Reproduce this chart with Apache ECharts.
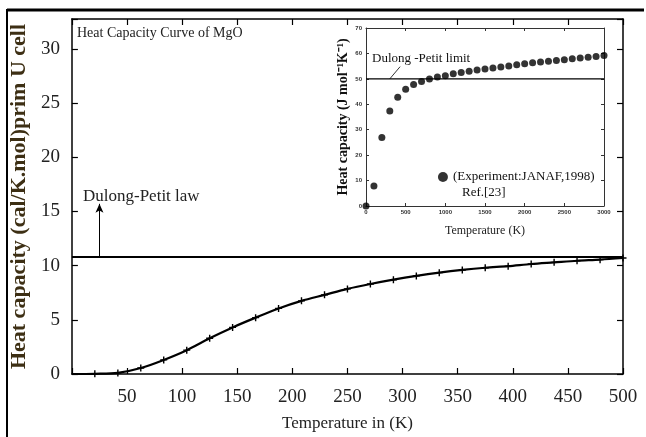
<!DOCTYPE html>
<html lang="en">
<head>
    <meta charset="UTF-8">
    <title>Heat Capacity Curve of MgO</title>
    <style>
        html, body { margin: 0; padding: 0; background: #fff; }
    </style>
</head>
<body>
<div class="main" style="width: 646px;height: 437px;"></div>
</body>
<script src="https://cdn.jsdelivr.net/npm/echarts@6/dist/echarts.min.js"></script>
<script>
    // main curve (cal/K.mol)
    var mainTemp = [0, 20.8, 41.7, 62.5, 83.3, 104.2, 125, 145.8, 166.7, 187.5, 208.3, 229.2, 250,
        270.8, 291.7, 312.5, 333.3, 354.2, 375, 395.8, 416.7, 437.5, 458.3, 479.2, 500];
    var mainCap = [0, 0.02, 0.1, 0.55, 1.3, 2.2, 3.3, 4.3, 5.2, 6.05, 6.75, 7.3, 7.85,
        8.3, 8.7, 9.05, 9.35, 9.6, 9.8, 9.95, 10.15, 10.3, 10.45, 10.55, 10.7];
    var dulongMain = 10.8;
    var arrowMain = [25, 15.7];

    // inset (J mol-1 K-1), JANAF
    var insetTemp = [0, 100, 200, 300, 400, 500, 600, 700, 800, 900, 1000, 1100, 1200, 1300, 1400, 1500,
        1600, 1700, 1800, 1900, 2000, 2100, 2200, 2300, 2400, 2500, 2600, 2700, 2800, 2900, 3000];
    var insetCap = [0, 7.9, 26.9, 37.4, 42.8, 45.9, 47.8, 49.0, 49.9, 50.7, 51.2, 52.0, 52.5, 53.0, 53.5, 53.9,
        54.3, 54.7, 55.1, 55.5, 55.9, 56.3, 56.6, 56.9, 57.2, 57.5, 57.9, 58.2, 58.5, 58.8, 59.2];
    var dulongInset = 50;
    var legendDot = [970, 11.4];
    var pointer = [[300, 50], [430, 54.8]];

    var mainXTicks = [0, 500, 50];
    var mainYTicks = [0, 32.75, 5];
    var insetXTicks = [0, 3000, 500];
    var insetYTicks = [0, 70, 10];

    var serif = "'Liberation Serif', 'Times New Roman', serif";
    var main = document.querySelector(".main");
    var mainEcharts = echarts.init(main);

    function pairs(xs, ys) {
        return xs.map(function (x, i) { return [x, ys[i]]; });
    }

    var mainData = pairs(mainTemp, mainCap).map(function (p, i) {
        return i === 0 ? {value: p, symbol: 'none'} : p;
    });

    var plus = 'path://M4,0H6V4H10V6H6V10H4V6H0V4H4Z';

    function tickAxis(pos, rng, gi, labelled, extra) {
        var ax = {
            type: 'value', gridIndex: gi, position: pos,
            min: rng[0], max: rng[1], interval: rng[2],
            splitLine: {show: false},
            axisLine: {show: true, onZero: false, lineStyle: {color: '#000', width: 1.5}},
            axisTick: {show: true, inside: true, length: 6, lineStyle: {color: '#000', width: 1.2}},
            axisLabel: {show: labelled}
        };
        for (var k in extra) ax[k] = extra[k];
        return ax;
    }

    var smallLine = {show: true, onZero: false, lineStyle: {color: '#333', width: 1}};
    var smallTick = {show: true, inside: true, length: 3, lineStyle: {color: '#333', width: 1}};
    var smallLabel = {
        show: true, color: '#333', fontFamily: 'Liberation Sans', fontSize: 6, fontWeight: 'bold',
        formatter: function (v) { return String(v); }
    };

    var option = {
        animation: false,
        grid: [
            {left: 69, top: 19, width: 554, height: 357, show: false},
            {left: 366, top: 28, width: 238, height: 178, show: false}
        ],
        xAxis: [
            tickAxis('bottom', mainXTicks, 0, true, {
                axisLabel: {
                    show: true, margin: 14, color: '#222', fontFamily: serif, fontSize: 19,
                    formatter: function (v) { return v === 0 ? '' : v; }
                },
                name: 'Temperature in (K)', nameLocation: 'middle', nameGap: 41,
                nameTextStyle: {color: '#222', fontFamily: serif, fontSize: 17}
            }),
            tickAxis('top', mainXTicks, 0, false, {}),
            tickAxis('bottom', insetXTicks, 1, true, {
                axisLine: smallLine, axisTick: smallTick,
                axisLabel: Object.assign({margin: 3}, smallLabel),
                name: 'Temperature (K)', nameLocation: 'middle', nameGap: 19,
                nameTextStyle: {color: '#222', fontFamily: serif, fontSize: 12}
            }),
            tickAxis('top', insetXTicks, 1, false, {axisLine: smallLine, axisTick: smallTick})
        ],
        yAxis: [
            tickAxis('left', mainYTicks, 0, true, {
                axisLabel: {
                    show: true, margin: 12, color: '#222', fontFamily: serif, fontSize: 19,
                    formatter: function (v) { return v % 5 === 0 ? v : ''; }
                },
                name: 'Heat capacity (cal/K.mol)prim U cell', nameLocation: 'middle', nameGap: 35,
                nameTextStyle: {color: '#3d2f14', fontFamily: serif, fontSize: 22, fontWeight: 'bold'}
            }),
            tickAxis('right', mainYTicks, 0, false, {}),
            tickAxis('left', insetYTicks, 1, true, {
                axisLine: smallLine, axisTick: smallTick,
                axisLabel: Object.assign({margin: 4}, smallLabel),
                name: 'Heat capacity (J mol\u207B\u00B9K\u207B\u00B9)', nameLocation: 'middle', nameGap: 16,
                nameTextStyle: {color: '#111', fontFamily: serif, fontSize: 14, fontWeight: 'bold'}
            }),
            tickAxis('right', insetYTicks, 1, false, {axisLine: smallLine, axisTick: smallTick})
        ],
        series: [
            {
                type: 'line', xAxisIndex: 0, yAxisIndex: 0,
                data: [[mainXTicks[0], dulongMain], [mainXTicks[1], dulongMain]],
                symbol: 'none', lineStyle: {color: '#000', width: 2},
                markLine: {
                    silent: true, symbol: ['none', 'arrow'], symbolSize: [6, 9],
                    label: {show: false},
                    lineStyle: {color: '#000', width: 1, type: 'solid'},
                    data: [[{coord: [arrowMain[0], dulongMain]}, {coord: arrowMain}]]
                }
            },
            {
                type: 'line', xAxisIndex: 0, yAxisIndex: 0,
                data: mainData, smooth: 0.3,
                symbol: plus, symbolSize: 7, showAllSymbol: true,
                itemStyle: {color: '#000'},
                lineStyle: {color: '#000', width: 2.2}
            },
            {
                type: 'line', xAxisIndex: 2, yAxisIndex: 2,
                data: [[insetXTicks[0], dulongInset], [insetXTicks[1], dulongInset]],
                symbol: 'none', lineStyle: {color: '#000', width: 1.3},
                markLine: {
                    silent: true, symbol: 'none', label: {show: false},
                    lineStyle: {color: '#000', width: 0.8, type: 'solid'},
                    data: [[{coord: pointer[0]}, {coord: pointer[1]}]]
                }
            },
            {
                type: 'scatter', xAxisIndex: 2, yAxisIndex: 2,
                data: pairs(insetTemp, insetCap), symbolSize: 7,
                itemStyle: {color: '#000'}
            },
            {
                type: 'scatter', xAxisIndex: 2, yAxisIndex: 2,
                data: [legendDot], symbolSize: 10,
                itemStyle: {color: '#000'}
            }
        ],
        graphic: [
            {type: 'line', shape: {x1: 7, y1: 10, x2: 644, y2: 10}, style: {stroke: '#000', lineWidth: 3}},
            {type: 'line', shape: {x1: 7, y1: 9, x2: 7, y2: 437}, style: {stroke: '#000', lineWidth: 2}},
            {type: 'text', x: 77, y: 33, style: {text: 'Heat Capacity Curve of MgO', font: '14px ' + serif, fill: '#222', verticalAlign: 'middle'}},
            {type: 'text', x: 83, y: 197, style: {text: 'Dulong-Petit law', font: '17px ' + serif, fill: '#222', verticalAlign: 'middle'}},
            {type: 'text', x: 372, y: 59, style: {text: 'Dulong -Petit limit', font: '13px ' + serif, fill: '#111', verticalAlign: 'middle'}},
            {type: 'text', x: 453, y: 177, style: {text: '(Experiment:JANAF,1998)', font: '13px ' + serif, fill: '#111', verticalAlign: 'middle'}},
            {type: 'text', x: 462, y: 193, style: {text: 'Ref.[23]', font: '13px ' + serif, fill: '#111', verticalAlign: 'middle'}}
        ]
    };

    mainEcharts.setOption(option);
</script>
</html>
